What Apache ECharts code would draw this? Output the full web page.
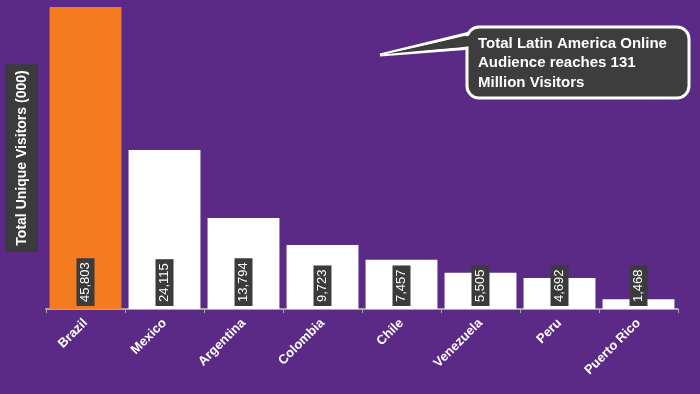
<!DOCTYPE html>
<html><head><meta charset="utf-8">
<script src="https://cdn.jsdelivr.net/npm/echarts@6/dist/echarts.min.js"></script>
<style>html,body{margin:0;padding:0;background:#5b2a86;}#c{width:700px;height:394px;}</style>
</head><body><div id="c"></div>
<script>
const categories = ['Brazil','Mexico','Argentina','Colombia','Chile','Venezuela','Peru','Puerto Rico'];
const visitors = [45803, 24115, 13794, 9723, 7457, 5505, 4692, 1468];
const yAxisTitle = 'Total Unique Visitors (000)';
const calloutText = 'Total Latin America Online\nAudience reaches 131\nMillion Visitors';

const chart = echarts.init(document.getElementById('c'), null, {renderer:'canvas'});
chart.setOption({
  backgroundColor: '#5b2a86',
  animation: false,
  grid: {left: 46, right: 22, top: 7, bottom: 85, containLabel: false, outerBoundsMode: 'none'},
  xAxis: {
    type: 'category', data: categories,
    axisLine: {lineStyle: {color: '#a9a9a9', width: 2}},
    axisTick: {show: true, length: 4, lineStyle: {color: '#a9a9a9'}},
    axisLabel: {rotate: 45, color: '#fff', fontWeight: 'bold', fontSize: 13, fontFamily: 'Liberation Sans, Arial', margin: 12}
  },
  yAxis: {
    type: 'value', min: 0, max: 45803,
    axisLine: {show: false}, axisTick: {show: false}, axisLabel: {show: false}, splitLine: {show: false},
    name: yAxisTitle, nameLocation: 'middle', nameRotate: 90, nameGap: 8,
    nameTextStyle: {color: '#fff', fontWeight: 'bold', fontSize: 14, fontFamily: 'Liberation Sans, Arial',
      backgroundColor: '#3b3b3b', padding: [10, 6, 9, 6]}
  },
  series: [{
    type: 'bar', data: visitors.map((v, i) => ({value: v, itemStyle: {color: i === 0 ? '#f47b20' : '#ffffff'}})),
    barCategoryGap: '9%',
    label: {
      show: true, position: 'insideBottom', rotate: 90, align: 'left', verticalAlign: 'middle', distance: 3,
      formatter: p => p.value.toLocaleString('en-US'),
      color: '#fff', fontSize: 13, fontFamily: 'Liberation Sans, Arial',
      backgroundColor: '#3b3b3b', padding: [3, 4, 2, 4]
    }
  }],
  graphic: [
    {type: 'polygon', shape: {points: [[470, 33], [380, 55], [470, 48]]}, style: {fill: '#3d3d3d', stroke: '#fff', lineWidth: 3, lineJoin: 'miter'}, z: 10},
    {type: 'rect', shape: {x: 467, y: 27, width: 222, height: 71, r: 12}, style: {fill: '#3d3d3d', stroke: '#fff', lineWidth: 3}, z: 11},
    {type: 'polygon', shape: {points: [[472, 35], [386, 54], [472, 46]]}, style: {fill: '#3d3d3d'}, z: 12},
    {type: 'text', left: 478, top: 34, style: {text: calloutText, fill: '#fff', font: 'bold 15px Liberation Sans, Arial', lineHeight: 19.5}, z: 13}
  ]
});
</script></body></html>
